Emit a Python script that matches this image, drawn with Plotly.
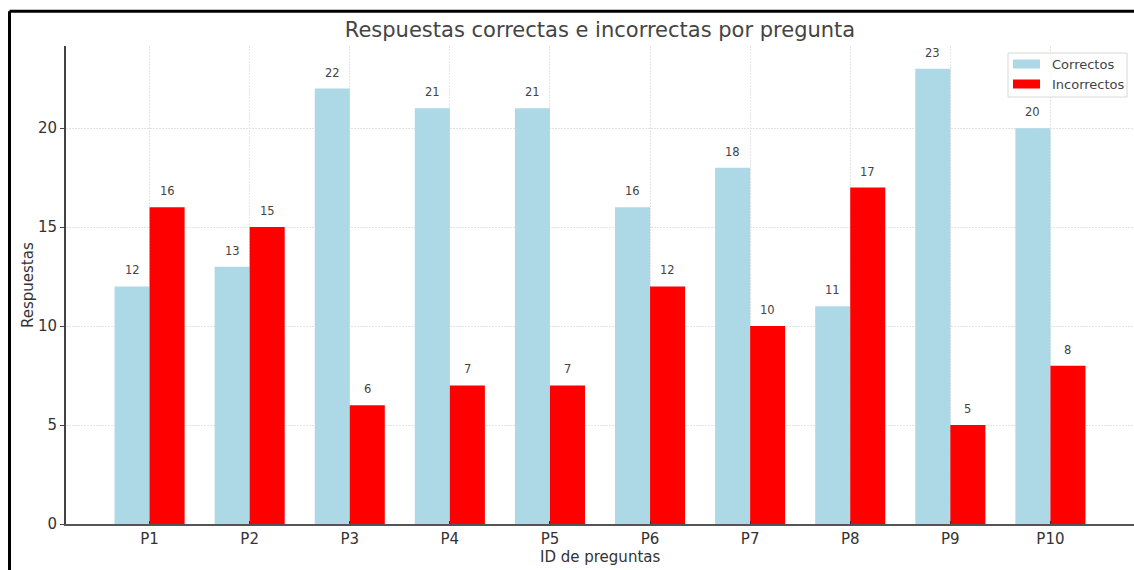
import plotly.graph_objects as go

preguntas = ["P1", "P2", "P3", "P4", "P5", "P6", "P7", "P8", "P9", "P10"]
correctos = [12, 13, 22, 21, 21, 16, 18, 11, 23, 20]
incorrectos = [16, 15, 6, 7, 7, 12, 10, 17, 5, 8]
series_names = ["Correctos", "Incorrectos"]
series_colors = ["#ADD8E6", "#FF0000"]

W, H = 1134, 570
L, R, T, B = 66, 0, 46, 46
PW, PH = W - L - R, H - T - B

def px_x(p):
    return (p - L) / PW

def px_y(p):
    return (H - B - p) / PH

FONT = "DejaVu Sans"
fig = go.Figure()
for name, vals, col in zip(series_names, [correctos, incorrectos], series_colors):
    fig.add_trace(go.Bar(x=preguntas, y=vals, name=name, marker=dict(color=col, line=dict(width=0)),
                         showlegend=False))

annotations = []
for k, vals in enumerate([correctos, incorrectos]):
    off = -0.175 if k == 0 else 0.175
    for i, v in enumerate(vals):
        annotations.append(dict(x=i + off, y=v, xref="x", yref="y", text=str(v), showarrow=False,
                                yshift=16, font=dict(family=FONT, size=11.5, color="#444444")))

# manual legend
shapes = []
lx0, lx1, ly0, ly1 = 1008, 1127, 53, 97
shapes.append(dict(type="rect", xref="paper", yref="paper", x0=px_x(lx0), x1=px_x(lx1),
                   y0=px_y(ly1), y1=px_y(ly0), line=dict(color="#d8d8d8", width=1),
                   fillcolor="rgba(255,255,255,0.8)", layer="above"))
for j, (name, col) in enumerate(zip(series_names, series_colors)):
    cy = 64 + j * 20
    shapes.append(dict(type="rect", xref="paper", yref="paper", x0=px_x(1013), x1=px_x(1040),
                       y0=px_y(cy + 4.5), y1=px_y(cy - 4.5), line=dict(width=0), fillcolor=col, layer="above"))
    annotations.append(dict(x=px_x(1050), y=px_y(cy), xref="paper", yref="paper", text=name,
                            showarrow=False, xanchor="left", yanchor="middle",
                            font=dict(family=FONT, size=13, color="#444444")))

# outer frame (screenshot border)
shapes.append(dict(type="line", xref="paper", yref="paper", x0=px_x(9.5), x1=px_x(1140),
                   y0=px_y(11.3), y1=px_y(11.3), line=dict(color="black", width=3)))
shapes.append(dict(type="line", xref="paper", yref="paper", x0=px_x(9.5), x1=px_x(9.5),
                   y0=px_y(11.3), y1=px_y(580), line=dict(color="black", width=3)))

# axis titles
annotations.append(dict(x=px_x(600), y=px_y(557), xref="paper", yref="paper", text="ID de preguntas",
                        showarrow=False, xanchor="center", yanchor="middle",
                        font=dict(family=FONT, size=15, color="#333333")))
annotations.append(dict(x=px_x(28), y=px_y(285), xref="paper", yref="paper", text="Respuestas",
                        showarrow=False, xanchor="center", yanchor="middle", textangle=-90,
                        font=dict(family=FONT, size=15, color="#333333")))

fig.update_layout(
    width=W, height=H,
    margin=dict(l=L, r=R, t=T, b=B),
    paper_bgcolor="white", plot_bgcolor="white",
    barmode="group", bargap=0.3, bargroupgap=0,
    title=dict(text="Respuestas correctas e incorrectas por pregunta", x=px_x(600), xref="paper",
               xanchor="center", y=1 - 30 / H, yref="container", yanchor="middle",
               font=dict(family=FONT, size=21, color="#444444")),
    font=dict(family=FONT, color="#333333"),
    annotations=annotations,
    shapes=shapes,
)
fig.update_xaxes(range=[-0.835, 9.835], showgrid=True, gridcolor="#e2e2e2", griddash="2px,1px", gridwidth=1,
                 showline=True, linecolor="#555555", linewidth=2, ticks="inside", ticklen=3,
                 tickcolor="#333333", tickfont=dict(family=FONT, size=15, color="#333333"), zeroline=False)
fig.update_yaxes(range=[0, 24.15], tickvals=[0, 5, 10, 15, 20], showgrid=True, gridcolor="#e2e2e2",
                 griddash="2px,1px", gridwidth=1, showline=True, linecolor="#444444", linewidth=2,
                 ticks="outside", ticklen=4, tickcolor="#444444",
                 tickfont=dict(family=FONT, size=15, color="#333333"), zeroline=False)

fig.write_html("out.html")
